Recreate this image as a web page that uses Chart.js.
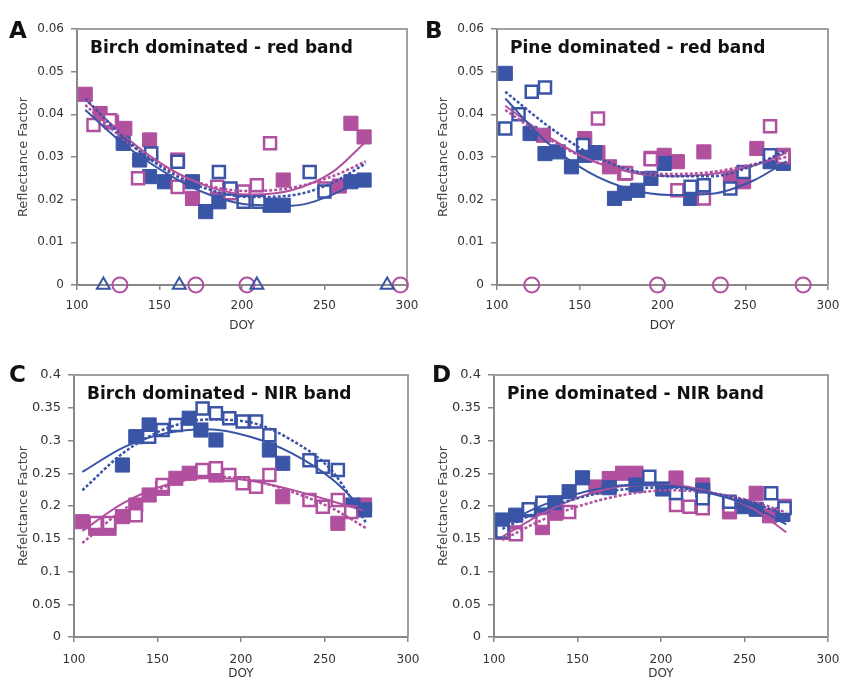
<!DOCTYPE html>
<html>
<head>
<meta charset="utf-8">
<title>Seasonal reflectance</title>
<script src="https://cdn.jsdelivr.net/npm/chart.js@4.4.0/dist/chart.umd.min.js"></script>
<style>
  html, body { margin: 0; padding: 0; background: #fff; }
  body { width: 844px; height: 681px; position: relative; overflow: hidden; }
  .panel { position: absolute; }
</style>
</head>
<body>
<div class="panel" style="left:0;top:0;width:420px;height:335px"><canvas id="panelA"></canvas></div>
<div class="panel" style="left:420px;top:0;width:424px;height:335px"><canvas id="panelB"></canvas></div>
<div class="panel" style="left:0;top:340px;width:420px;height:341px"><canvas id="panelC"></canvas></div>
<div class="panel" style="left:420px;top:340px;width:424px;height:341px"><canvas id="panelD"></canvas></div>
<script>
// DOY values where the fitted curves are sampled
const fitDoy = [105, 130, 155, 180, 205, 230, 255, 275];

// --- A: birch dominated, red band ---
const birchRedBlueFilled = [[128,0.0332],[138,0.0293],[144,0.0254],[153,0.0242],[170,0.0242],[178,0.0172],[186,0.0195],[217,0.0187],[225,0.0187],[266,0.0242],[274,0.0246]];
const birchRedBlueOpen = [[145,0.0308],[161,0.0289],[186,0.0265],[193,0.0226],[201,0.0195],[210,0.0195],[241,0.0265],[250,0.0219]];
const birchRedPinkFilled = [[105,0.0447],[114,0.0402],[121,0.0382],[129,0.0367],[144,0.0340],[161,0.0293],[170,0.0203],[225,0.0246],[259,0.0232],[266,0.0379],[274,0.0347]];
const birchRedPinkOpen = [[110,0.0375],[120,0.0386],[137,0.0250],[161,0.0230],[185,0.0230],[193,0.0215],[201,0.0219],[209,0.0234],[217,0.0332],[250,0.0226]];
const birchRedBlueFit = [0.0410, 0.0325, 0.0260, 0.0212, 0.0188, 0.0186, 0.0212, 0.0252];
const birchRedBlueFitDash = [0.0437, 0.0340, 0.0267, 0.0224, 0.0206, 0.0210, 0.0240, 0.0285];
const birchRedPinkFit = [0.0435, 0.0345, 0.0275, 0.0230, 0.0212, 0.0222, 0.0265, 0.0336];
const birchRedPinkFitDash = [0.0422, 0.0336, 0.0272, 0.0233, 0.0220, 0.0228, 0.0255, 0.0290];
const birchRedBlueDates = [116, 162, 209, 288];
const birchRedPinkDates = [126, 172, 203, 296];

// --- B: pine dominated, red band ---
const pineRedBlueFilled = [[105,0.0496],[120,0.0355],[129,0.0308],[137,0.0312],[145,0.0277],[153,0.0304],[159,0.0310],[171,0.0203],[177,0.0215],[185,0.0222],[193,0.0250],[201,0.0285],[217,0.0203],[265,0.0289],[273,0.0285]];
const pineRedBlueOpen = [[105,0.0367],[113,0.0400],[121,0.0453],[129,0.0463],[152,0.0328],[217,0.0230],[225,0.0234],[241,0.0226],[249,0.0265],[265,0.0304]];
const pineRedPinkFilled = [[128,0.0351],[153,0.0343],[161,0.0310],[168,0.0277],[177,0.0262],[193,0.0297],[201,0.0304],[209,0.0289],[225,0.0312],[241,0.0250],[249,0.0242],[257,0.0320],[273,0.0304]];
const pineRedPinkOpen = [[161,0.0390],[178,0.0262],[193,0.0295],[209,0.0222],[225,0.0203],[265,0.0372],[273,0.0300]];
const pineRedBlueFit = [0.0437, 0.0335, 0.0265, 0.0225, 0.0211, 0.0214, 0.0245, 0.0290];
const pineRedBlueFitDash = [0.0453, 0.0375, 0.0310, 0.0270, 0.0255, 0.0255, 0.0280, 0.0316];
const pineRedPinkFit = [0.0420, 0.0350, 0.0295, 0.0265, 0.0255, 0.0260, 0.0280, 0.0310];
const pineRedPinkFitDash = [0.0410, 0.0345, 0.0295, 0.0268, 0.0260, 0.0265, 0.0283, 0.0300];
const pineRedPinkDates = [121, 197, 235, 285];

// --- C: birch dominated, NIR band ---
const birchNirBlueFilled = [[129,0.2626],[137,0.3058],[145,0.3237],[169,0.3340],[176,0.3160],[185,0.3008],[217,0.2855],[225,0.2652],[267,0.2015],[274,0.1940]];
const birchNirBlueOpen = [[145,0.3058],[153,0.3160],[161,0.3237],[177,0.3490],[185,0.3415],[193,0.3340],[201,0.3290],[209,0.3290],[217,0.3080],[241,0.2700],[249,0.2600],[258,0.2550]];
const birchNirPinkFilled = [[105,0.1760],[113,0.1660],[121,0.1660],[129,0.1837],[137,0.2015],[145,0.2168],[153,0.2270],[161,0.2423],[169,0.2500],[177,0.2524],[185,0.2473],[225,0.2142],[258,0.1736],[274,0.2015]];
const birchNirPinkOpen = [[113,0.1740],[121,0.1740],[137,0.1860],[153,0.2320],[177,0.2550],[185,0.2576],[193,0.2473],[201,0.2347],[209,0.2295],[217,0.2473],[241,0.2090],[249,0.1990],[258,0.2090],[266,0.1910]];
const birchNirBlueFit = [0.252, 0.290, 0.311, 0.317, 0.306, 0.281, 0.240, 0.190];
const birchNirBlueFitDash = [0.224, 0.282, 0.318, 0.332, 0.328, 0.301, 0.252, 0.174];
const birchNirPinkFit = [0.162, 0.205, 0.232, 0.243, 0.239, 0.225, 0.207, 0.192];
const birchNirPinkFitDash = [0.1435, 0.195, 0.230, 0.245, 0.240, 0.222, 0.196, 0.166];

// --- D: pine dominated, NIR band ---
const pineNirBlueFilled = [[105,0.1786],[113,0.1860],[121,0.1940],[129,0.1990],[137,0.2050],[145,0.2218],[153,0.2430],[169,0.2280],[185,0.2320],[201,0.2260],[225,0.2240],[241,0.2040],[249,0.1990],[257,0.1950],[273,0.1870]];
const pineNirBlueOpen = [[105,0.1610],[121,0.1950],[129,0.2050],[193,0.2447],[209,0.2200],[225,0.2120],[241,0.2066],[266,0.2194],[274,0.1970]];
const pineNirPinkFilled = [[113,0.1590],[129,0.1670],[137,0.1890],[161,0.2290],[169,0.2420],[177,0.2500],[185,0.2500],[209,0.2427],[225,0.2320],[241,0.1910],[257,0.2194],[265,0.1850]];
const pineNirPinkOpen = [[105,0.1590],[113,0.1570],[129,0.1786],[145,0.1910],[209,0.2015],[217,0.1990],[225,0.1965],[241,0.1990],[274,0.2000]];
const pineNirBlueFit = [0.172, 0.202, 0.222, 0.232, 0.231, 0.219, 0.199, 0.172];
const pineNirBlueFitDash = [0.165, 0.195, 0.215, 0.226, 0.228, 0.220, 0.205, 0.185];
const pineNirPinkFit = [0.153, 0.190, 0.217, 0.231, 0.232, 0.221, 0.196, 0.160];
const pineNirPinkFitDash = [0.148, 0.180, 0.203, 0.218, 0.224, 0.220, 0.207, 0.190];

const xTickLabels = [100, 150, 200, 250, 300];

const BLUE = '#3a54a6';
const PINK = '#b0509f';
const FONT = 'DejaVu Sans';

// --- dataset builders ---
function squares(points, color, filled, order) {
    return {
        type: 'scatter',
        data: points.map(p => ({ x: p[0], y: p[1] })),
        pointStyle: 'rect',
        pointRadius: filled ? 10 : 8.5,
        pointHoverRadius: filled ? 10 : 8.5,
        backgroundColor: filled ? color : '#fff',
        borderColor: color,
        borderWidth: filled ? 1 : 2.5,
        clip: false,
        order: order
    };
}

function fitLine(values, color, dashed, order) {
    return {
        type: 'line',
        data: fitDoy.map((d, i) => ({ x: d, y: values[i] })),
        borderColor: color,
        borderWidth: dashed ? 2.5 : 2,
        borderDash: dashed ? [3, 2] : [],
        pointRadius: 0,
        fill: false,
        cubicInterpolationMode: 'monotone',
        clip: false,
        order: order
    };
}

function dateMarks(doys, color, style, order) {
    return {
        type: 'scatter',
        data: doys.map(d => ({ x: d, y: 0 })),
        pointStyle: style,
        pointRadius: 7.5,
        backgroundColor: 'rgba(255,255,255,0)',
        borderColor: color,
        borderWidth: 2,
        clip: false,
        order: order
    };
}

function seriesSet(blueFilled, blueOpen, pinkFilled, pinkOpen, fits) {
    return [
        fitLine(fits[0], BLUE, false, 1),
        fitLine(fits[1], BLUE, true, 2),
        fitLine(fits[2], PINK, false, 3),
        fitLine(fits[3], PINK, true, 4),
        squares(blueOpen, BLUE, false, 6),
        squares(pinkOpen, PINK, false, 7),
        squares(blueFilled, BLUE, true, 8),
        squares(pinkFilled, PINK, true, 9)
    ];
}

// frame, panel letter and title text
const panelDecor = {
    id: 'panelDecor',
    beforeDatasetsDraw(chart, args, opts) {
        const { ctx, chartArea: a } = chart;
        ctx.save();
        ctx.strokeStyle = '#a0a0a0';
        ctx.lineWidth = 2;
        ctx.beginPath();
        ctx.moveTo(a.left, a.top);
        ctx.lineTo(a.right, a.top);
        ctx.lineTo(a.right, a.bottom);
        ctx.stroke();

        ctx.fillStyle = '#111';
        ctx.textBaseline = 'middle';
        ctx.font = `bold 17px "${FONT}"`;
        ctx.fillText(opts.title, a.left + 13, a.top + 20);

        ctx.textBaseline = 'alphabetic';
        ctx.font = `bold 23px "${FONT}"`;
        ctx.fillText(opts.letter, opts.letterX, opts.letterY);
        ctx.restore();
    }
};

function makePanel(id, p) {
    const tickFmt = v => String(+v.toFixed(3));
    return new Chart(document.getElementById(id), {
        data: { datasets: p.datasets },
        plugins: [panelDecor],
        options: {
            responsive: true,
            maintainAspectRatio: false,
            animation: false,
            events: [],
            layout: { padding: { top: p.padTop, right: p.padRight, left: 0, bottom: 0 } },
            plugins: {
                legend: { display: false },
                tooltip: { enabled: false },
                panelDecor: { letter: p.letter, letterX: p.letterX, letterY: p.letterY, title: p.title }
            },
            scales: {
                x: {
                    type: 'linear', min: 100, max: 300,
                    afterBuildTicks: s => { s.ticks = xTickLabels.map(v => ({ value: v })); },
                    // fixed axis box; end labels may hang into the layout padding
                    afterFit: s => { s.height = p.xHeight; s.paddingLeft = 0; s.paddingRight = 0; },
                    ticks: { color: '#333', padding: p.xTickPad, maxRotation: 0, font: { family: FONT, size: 12 } },
                    grid: { drawOnChartArea: false, tickLength: 5, color: '#888', lineWidth: 1.5 },
                    border: { color: '#888', width: 2 },
                    title: { display: true, text: 'DOY', color: '#333', font: { family: FONT, size: 12 }, padding: { top: 0, bottom: p.doyPad } }
                },
                y: {
                    type: 'linear', min: 0, max: p.yMax,
                    afterFit: s => { s.width = p.yWidth; },
                    ticks: { stepSize: p.yStep, color: '#333', padding: 7, callback: tickFmt, font: { family: FONT, size: p.yTickSize } },
                    grid: { drawOnChartArea: false, tickLength: 6, color: '#888', lineWidth: 1.5 },
                    border: { color: '#888', width: 2 },
                    title: { display: true, text: p.yTitle, color: '#444', font: { family: FONT, size: 13 }, padding: { top: 16, bottom: 0 } }
                }
            }
        }
    });
}

makePanel('panelA', {
    letter: 'A', letterX: 9, letterY: 38, title: 'Birch dominated - red band',
    yMax: 0.06, yStep: 0.01, yTitle: 'Reflectance Factor', yWidth: 77, yTickSize: 12,
    padTop: 29, padRight: 13, xHeight: 50, xTickPad: 9, doyPad: 2,
    datasets: [
        ...seriesSet(birchRedBlueFilled, birchRedBlueOpen, birchRedPinkFilled, birchRedPinkOpen,
            [birchRedBlueFit, birchRedBlueFitDash, birchRedPinkFit, birchRedPinkFitDash]),
        dateMarks(birchRedBlueDates, BLUE, 'triangle', 5),
        dateMarks(birchRedPinkDates, PINK, 'circle', 5)
    ]
});

makePanel('panelB', {
    letter: 'B', letterX: 5, letterY: 38, title: 'Pine dominated - red band',
    yMax: 0.06, yStep: 0.01, yTitle: 'Reflectance Factor', yWidth: 77, yTickSize: 12,
    padTop: 29, padRight: 16, xHeight: 50, xTickPad: 9, doyPad: 2,
    datasets: [
        ...seriesSet(pineRedBlueFilled, pineRedBlueOpen, pineRedPinkFilled, pineRedPinkOpen,
            [pineRedBlueFit, pineRedBlueFitDash, pineRedPinkFit, pineRedPinkFitDash]),
        dateMarks(pineRedPinkDates, PINK, 'circle', 5)
    ]
});

makePanel('panelC', {
    letter: 'C', letterX: 9, letterY: 42, title: 'Birch dominated - NIR band',
    yMax: 0.4, yStep: 0.05, yTitle: 'Refelctance Factor', yWidth: 74, yTickSize: 13,
    padTop: 35, padRight: 12, xHeight: 44, xTickPad: 11, doyPad: 0,
    datasets: seriesSet(birchNirBlueFilled, birchNirBlueOpen, birchNirPinkFilled, birchNirPinkOpen,
        [birchNirBlueFit, birchNirBlueFitDash, birchNirPinkFit, birchNirPinkFitDash])
});

makePanel('panelD', {
    letter: 'D', letterX: 12, letterY: 42, title: 'Pine dominated - NIR band',
    yMax: 0.4, yStep: 0.05, yTitle: 'Refelctance Factor', yWidth: 74, yTickSize: 13,
    padTop: 35, padRight: 16, xHeight: 44, xTickPad: 11, doyPad: 0,
    datasets: seriesSet(pineNirBlueFilled, pineNirBlueOpen, pineNirPinkFilled, pineNirPinkOpen,
        [pineNirBlueFit, pineNirBlueFitDash, pineNirPinkFit, pineNirPinkFitDash])
});
</script>
</body>
</html>
